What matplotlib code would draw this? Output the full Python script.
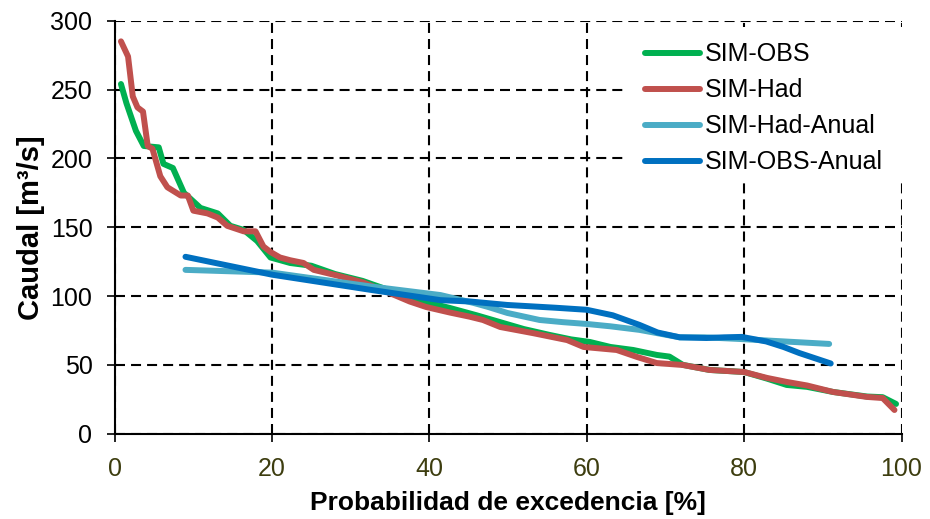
import matplotlib
matplotlib.use('Agg')
import matplotlib.pyplot as plt
from matplotlib.patches import Rectangle

plt.rcParams['font.family'] = ['Liberation Sans', 'DejaVu Sans']

# curva de duracion de caudales
x_obs = [0.8, 1.5, 2.7, 3.7, 5.6, 6.2, 7.4, 8.8, 10.9, 13.1, 14.7, 16.4, 18.1, 19.8, 22.3,
         25, 28, 31.5, 35, 37.5, 40, 42.6, 46, 49, 52, 55.3, 58, 60.4, 63, 65.9, 68.9,
         70.5, 72.2, 75.6, 80, 82.9, 85.4, 88, 91.3, 95.6, 97.6, 99.3]
y_obs = [254, 240, 220, 209, 208, 196, 193, 175, 164, 160, 151, 148, 140, 128, 124,
         122, 116, 111, 104, 99, 95, 91.3, 86, 81, 76, 71.7, 68.5, 66.6, 63, 60.8, 57.2,
         56, 50, 46.3, 44.8, 40, 35.4, 34, 30.3, 27, 26.5, 21.6]

x_had = [0.8, 1.7, 2.3, 2.9, 3.6, 4.2, 4.8, 5.8, 6.7, 8.4, 9.3, 10, 11.8, 13.1, 14.3,
         16.4, 17.9, 18.9, 19.8, 21, 22.3, 24, 25.3, 28.2, 31.5, 34.6, 37.5, 39.6, 42.6,
         45.1, 46.8, 49, 53.2, 57.5, 59.6, 63.8, 66.4, 68.9, 72.2, 75.6, 80, 82.9, 85.4,
         88, 91.3, 95.6, 97.6, 99.1]
y_had = [285, 274, 245, 237, 234, 209, 207, 187, 179, 173, 173, 162, 160, 157, 151,
         147, 147, 136, 132, 128, 126, 124, 119, 115, 110, 103, 96, 92, 88,
         85, 82.6, 77.5, 73, 68, 63, 60.8, 55.7, 51.3, 49.9, 46.3, 44.8, 40.5, 37.6,
         35, 30.3, 26.7, 25.9, 17.2]

x_had_an = [9, 20, 32.5, 41.4, 45.6, 47.5, 49.9, 54, 57, 60, 63, 66.7, 71.8, 75, 79.4, 90.8]
y_had_an = [119, 117, 107, 100.7, 95, 92, 87.7, 82.6, 81, 79.7, 78, 75.4, 70, 70, 68.8, 65.2]

x_obs_an = [9, 20, 32.5, 41.4, 45.2, 49.9, 56, 60, 63.3, 66.7, 69, 71.8, 75.2, 77.5,
            79.7, 82.8, 85, 87, 91]
y_obs_an = [128.5, 115.5, 104.5, 97, 96, 93.5, 91.5, 90, 86, 79, 73.5, 70, 69.5, 70,
            70.3, 67, 63, 58.6, 51]

fig = plt.figure(figsize=(9.3, 5.19), dpi=100)
ax = fig.add_axes([0.1233, 0.1644, 0.9694 - 0.1233, 0.9601 - 0.1644])

lw = 4.3
ax.plot(x_obs, y_obs, color='#00B050', lw=lw, solid_capstyle='round', solid_joinstyle='round', label='SIM-OBS')
ax.plot(x_had, y_had, color='#C0504D', lw=lw, solid_capstyle='round', solid_joinstyle='round', label='SIM-Had')
ax.plot(x_had_an, y_had_an, color='#4BACC6', lw=lw, solid_capstyle='round', solid_joinstyle='round', label='SIM-Had-Anual')
ax.plot(x_obs_an, y_obs_an, color='#0070C0', lw=lw, solid_capstyle='round', solid_joinstyle='round', label='SIM-OBS-Anual')

ax.set_xlim(0, 100)
ax.set_ylim(0, 300)
ax.set_xticks(range(0, 101, 20))
ax.set_yticks(range(0, 301, 50))
ax.grid(True, color='black', lw=1.5, linestyle=(0, (4.8, 2.9)))
ax.set_axisbelow(True)

for s in ['top', 'right']:
    ax.spines[s].set_visible(False)
for s in ['left', 'bottom']:
    ax.spines[s].set_linewidth(1.5)

ax.tick_params(direction='out', length=6, width=1.2, labelsize=18)
ax.tick_params(axis='y', pad=10)
ax.tick_params(axis='x', pad=11, labelcolor='#3d3d0f')

ax.set_xlabel('Probabilidad de excedencia [%]', fontsize=19, fontweight='bold', labelpad=7)
ax.set_ylabel('Caudal [m³/s]', fontsize=21, fontweight='bold', labelpad=4)

# fondo blanco del cuadro de leyenda (tapa la grilla)
ax.add_patch(Rectangle((625 / 930, 1 - 183 / 519), 283 / 930, 156 / 519, transform=fig.transFigure,
                       facecolor='white', edgecolor='none', clip_on=False, zorder=1))

leg = ax.legend(loc='upper left', bbox_to_anchor=(0.6828, 0.9374), bbox_transform=fig.transFigure,
                fontsize=18, frameon=False, borderaxespad=0, borderpad=0.4, handlelength=2.2,
                handletextpad=0.2, labelspacing=0.48)

fig.savefig('out.png', dpi=100)
